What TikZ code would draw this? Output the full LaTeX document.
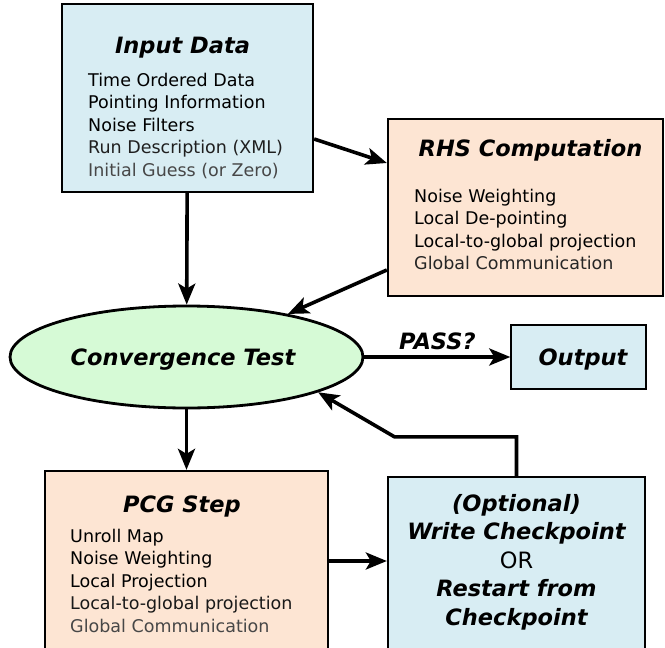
\documentclass[tikz,border=0pt]{standalone}
\usepackage{fontspec}
\setmainfont{DejaVu Sans}
\usetikzlibrary{shapes.geometric, arrows.meta, positioning}
\definecolor{inblue}{RGB}{216,237,243}
\definecolor{stepbeige}{RGB}{253,229,211}
\definecolor{testgreen}{RGB}{214,250,214}

\begin{document}
\begin{tikzpicture}[x=1pt,y=-1pt,
  box/.style={draw,line width=2.3pt,inner sep=0pt},
  head/.style={font=\fontsize{22.5}{27}\selectfont\bfseries\itshape,anchor=base,inner sep=0pt},
  item/.style={font=\fontsize{17.5}{22}\selectfont,anchor=base west,inner sep=0pt},
  flow/.style={line width=3.6pt,-{Stealth[length=21pt,width=17pt,inset=5pt]}}]
\clip (0,0) rectangle (665,648);

% boxes
\node[box,fill=inblue,minimum width=251pt,minimum height=188pt] (input) at (187.5,98) {};
\node[box,fill=stepbeige,minimum width=275pt,minimum height=177pt] (rhs) at (525.5,207.5) {};
\node[box,ellipse,line width=2.8pt,fill=testgreen,minimum width=353pt,minimum height=102pt] (conv) at (186.5,357) {};
\node[box,line width=1.4pt,fill=inblue,minimum width=135pt,minimum height=64pt] (output) at (578.5,357) {};
\node[box,fill=stepbeige,minimum width=283pt,minimum height=186pt] (pcg) at (186.5,564) {};
\node[box,fill=inblue,minimum width=257pt,minimum height=180pt] (check) at (516.5,567) {};

% input data
\node[head] (intitle) at (182.5,53) {Input Data};
\node[item] (in1) at (88,86) {Time Ordered Data};
\node[item] (in2) at (88,108.5) {Pointing Information};
\node[item] (in3) at (88,131) {Noise Filters};
\node[item,text=black!88] (in4) at (88,153.5) {Run Description (XML)};
\node[item,text=black!72] (in5) at (88,176) {Initial Guess (or Zero)};

% rhs
\node[head] (rhstitle) at (530.5,156) {RHS Computation};
\node[item] (rhs1) at (414,202) {Noise Weighting};
\node[item] (rhs2) at (414,224.5) {Local De-pointing};
\node[item] (rhs3) at (414,247) {Local-to-global projection};
\node[item,text=black!85] (rhs4) at (414,269.5) {Global Communication};

% test and output
\node[head] (convtext) at (183,365) {Convergence Test};
\node[head] (outtext) at (583,365) {Output};

% pcg step
\node[head] (pcgtitle) at (182,512) {PCG Step};
\node[item] (pcg1) at (70,542) {Unroll Map};
\node[item] (pcg2) at (70,564.5) {Noise Weighting};
\node[item] (pcg3) at (70,587) {Local Projection};
\node[item,text=black!90] (pcg4) at (70,609.5) {Local-to-global projection};
\node[item,text=black!72] (pcg5) at (70,632) {Global Communication};

% checkpoint
\node[head] (chk1) at (516.5,511) {(Optional)};
\node[head] (chk2) at (516.5,539.5) {Write Checkpoint};
\node[head,font=\fontsize{22.5}{27}\selectfont] (chk3) at (516.5,568) {OR};
\node[head] (chk4) at (516.5,596.5) {Restart from};
\node[head] (chk5) at (516.5,625) {Checkpoint};

% connectors
\draw[flow] (input) -- (conv);
\draw[flow] ([yshift=-41pt]input.east) -- ([yshift=44.5pt]rhs.west);
\draw[flow] ([yshift=-62.5pt]rhs.west) -- (conv.23);
\draw[flow] (conv) -- (pcg);
\draw[flow] (conv.east) -- node[head,above=5pt,anchor=south] (pass) {PASS?} (output.west);
\draw[flow] ([yshift=3pt]pcg.east) -- ([yshift=3pt]check.west |- pcg.east);
\draw[flow] (check.north) -- ++(0,-39) -- ++(-122,0) -- (conv.345);
\end{tikzpicture}
\end{document}
